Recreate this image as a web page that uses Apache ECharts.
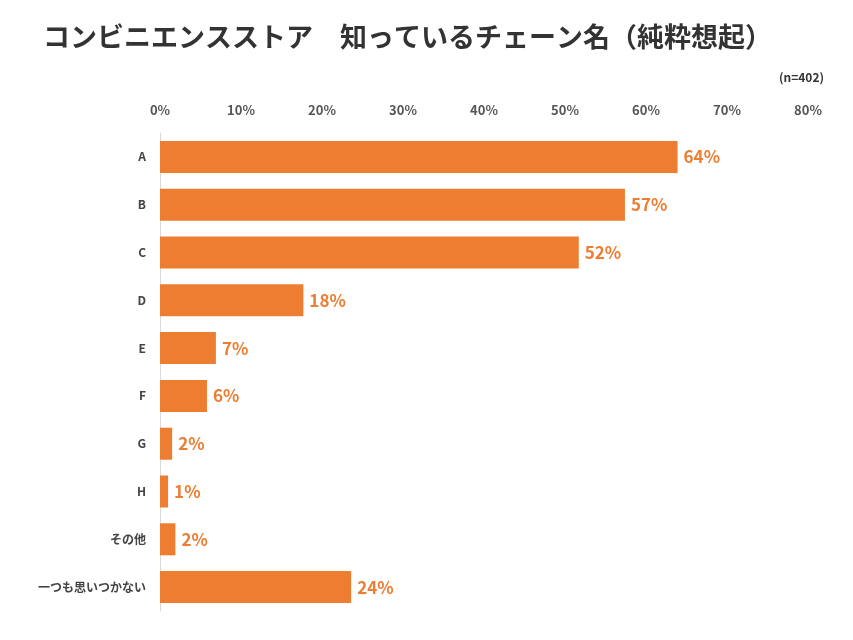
<!DOCTYPE html>
<html>
<head>
<meta charset="utf-8">
<script src="https://cdn.jsdelivr.net/npm/echarts@6/dist/echarts.min.js"></script>
<style>html,body{margin:0;padding:0;background:#fff}#main{width:853px;height:640px}</style>
</head>
<body>
<div id="main"></div>
<script>
// 項目と割合（%）
var categories = ['A', 'B', 'C', 'D', 'E', 'F', 'G', 'H', 'その他', '一つも思いつかない'];
var values = [63.9, 57.4, 51.7, 17.7, 6.9, 5.8, 1.5, 1.0, 1.9, 23.6];
var tickMax = 80;

var myChart = echarts.init(document.getElementById('main'));
var font = '"Noto Sans CJK JP", sans-serif';

var option = {
    textStyle: { fontFamily: font },
    title: [{
        text: 'コンビニエンスストア　知っているチェーン名（純粋想起）',
        left: 38,
        top: 18,
        textStyle: { color: '#333', fontSize: 27, fontWeight: 'bold', fontFamily: font }
    }, {
        text: '(n=402)',
        right: 24,
        top: 66,
        textStyle: { color: '#333', fontSize: 12, fontWeight: 'bold', fontFamily: font }
    }],
    grid: { left: 160, right: 45, top: 133, bottom: 29 },
    xAxis: {
        type: 'value',
        position: 'top',
        min: 0,
        max: tickMax,
        interval: 10,
        axisLine: { show: false },
        axisTick: { show: false },
        splitLine: { show: false },
        axisLabel: {
            formatter: '{value}%',
            color: '#555',
            fontSize: 13,
            fontWeight: 'bold',
            margin: 16,
            fontFamily: font
        }
    },
    yAxis: {
        type: 'category',
        inverse: true,
        data: categories,
        axisLine: { show: true, lineStyle: { color: '#d9d9d9' } },
        axisTick: { show: false },
        axisLabel: { color: '#444', fontSize: 12, fontWeight: 'bold', margin: 14, fontFamily: font }
    },
    series: [{
        type: 'bar',
        data: values,
        barWidth: 32,
        itemStyle: { color: '#ed7d31' },
        label: {
            show: true,
            position: 'right',
            distance: 6,
            color: '#ed7d31',
            fontSize: 17,
            fontWeight: 'bold',
            fontFamily: font,
            formatter: function (p) { return Math.round(p.value) + '%'; }
        }
    }]
};
myChart.setOption(option);
</script>
</body>
</html>
